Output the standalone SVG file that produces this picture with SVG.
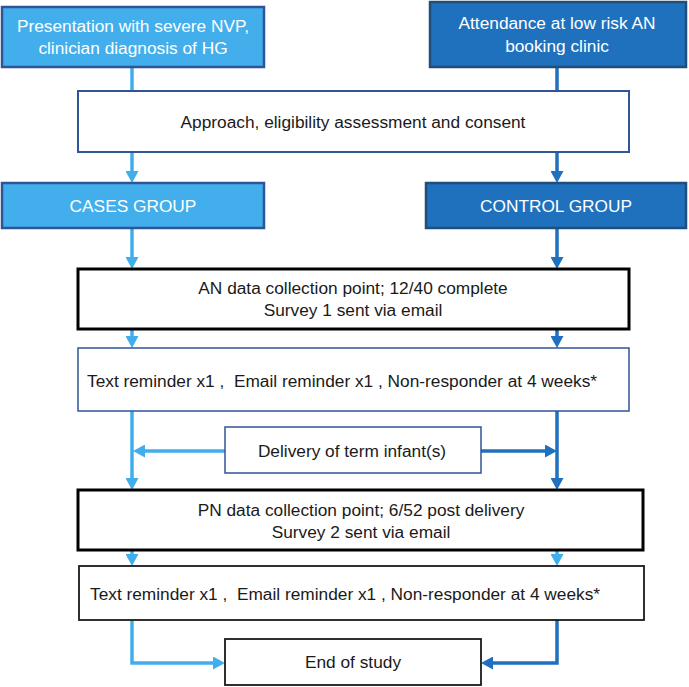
<svg xmlns="http://www.w3.org/2000/svg" width="689" height="687" viewBox="0 0 689 687">
<defs>
<style>
text{font-family:"Liberation Sans",Arial,sans-serif;font-size:17.3px;dominant-baseline:central;text-anchor:middle;fill:#1a1a1a}
.w{fill:#ffffff}
.lt{stroke:#41AEEC;stroke-width:3.5;fill:none}
.dk{stroke:#1F70BF;stroke-width:3.5;fill:none}
.lbox{fill:#42AFEC;stroke:#2F5597;stroke-width:2.5}
.dbox{fill:#1F71BE;stroke:#1F4E79;stroke-width:2.5}
.bbox{fill:#ffffff;stroke:#2F5597;stroke-width:2}
.tbox{fill:#ffffff;stroke:#2F5597;stroke-width:1.5}
.kbox{fill:#ffffff;stroke:#000000;stroke-width:3}
.k2box{fill:#ffffff;stroke:#1a1a1a;stroke-width:1.8}
</style>
<marker id="al" markerUnits="userSpaceOnUse" markerWidth="13" markerHeight="13" refX="4" refY="6.5" orient="auto"><path d="M0,0 L12,6.5 L0,13 z" fill="#41AEEC"/></marker>
<marker id="ad" markerUnits="userSpaceOnUse" markerWidth="13" markerHeight="13" refX="4" refY="6.5" orient="auto"><path d="M0,0 L12,6.5 L0,13 z" fill="#1F70BF"/></marker>
</defs>
<g id="connectors">
<line class="lt" x1="132" y1="67" x2="132" y2="91"/>
<line class="dk" x1="557" y1="67" x2="557" y2="91"/>
<line class="lt" x1="132" y1="152" x2="132" y2="175" marker-end="url(#al)"/>
<line class="dk" x1="557" y1="152" x2="557" y2="175" marker-end="url(#ad)"/>
<line class="lt" x1="132" y1="228" x2="132" y2="261" marker-end="url(#al)"/>
<line class="dk" x1="557" y1="228" x2="557" y2="261" marker-end="url(#ad)"/>
<line class="lt" x1="132" y1="330" x2="132" y2="340" marker-end="url(#al)"/>
<line class="dk" x1="557" y1="330" x2="557" y2="340" marker-end="url(#ad)"/>
<line class="lt" x1="132" y1="411" x2="132" y2="482" marker-end="url(#al)"/>
<line class="dk" x1="557" y1="411" x2="557" y2="482" marker-end="url(#ad)"/>
<line class="lt" x1="225" y1="451" x2="141" y2="451" marker-end="url(#al)"/>
<line class="dk" x1="481" y1="451" x2="549" y2="451" marker-end="url(#ad)"/>
<line class="lt" x1="132" y1="551" x2="132" y2="558" marker-end="url(#al)"/>
<line class="lt" x1="557" y1="551" x2="557" y2="558" marker-end="url(#al)"/>
<polyline class="lt" points="132,620 132,663 217,663" marker-end="url(#al)"/>
<polyline class="dk" points="557,620 557,663 489,663" marker-end="url(#ad)"/>
</g>
<g id="n1"><rect class="lbox" x="2" y="7" width="262" height="60"/><text class="w" x="133" y="26">Presentation with severe NVP,</text><text class="w" x="133" y="48">clinician diagnosis of HG</text></g>
<g id="n2"><rect class="dbox" x="430" y="2" width="256" height="65"/><text class="w" x="557" y="23">Attendance at low risk AN</text><text class="w" x="557" y="46">booking clinic</text></g>
<g id="n3"><rect class="bbox" x="78" y="91" width="551" height="61"/><text x="353" y="122">Approach, eligibility assessment and consent</text></g>
<g id="n4"><rect class="lbox" x="2" y="183" width="262" height="45"/><text class="w" x="133" y="206">CASES GROUP</text></g>
<g id="n5"><rect class="dbox" x="426" y="183" width="260" height="45"/><text class="w" x="556" y="206">CONTROL GROUP</text></g>
<g id="n6"><rect class="kbox" x="78" y="269" width="551" height="60"/><text x="353" y="288">AN data collection point; 12/40 complete</text><text x="353" y="310">Survey 1 sent via email</text></g>
<g id="n7"><rect class="tbox" x="78" y="348" width="551" height="63"/><text x="87" y="381" style="text-anchor:start" xml:space="preserve">Text reminder x1 ,  Email reminder x1 , Non-responder at 4 weeks*</text></g>
<g id="n8"><rect class="tbox" x="225" y="427" width="256" height="46"/><text x="352" y="451">Delivery of term infant(s)</text></g>
<g id="n9"><rect class="kbox" x="78" y="490" width="565" height="60"/><text x="361" y="510">PN data collection point; 6/52 post delivery</text><text x="361" y="532">Survey 2 sent via email</text></g>
<g id="n10"><rect class="k2box" x="79" y="566" width="565" height="54"/><text x="90" y="594" style="text-anchor:start" xml:space="preserve">Text reminder x1 ,  Email reminder x1 , Non-responder at 4 weeks*</text></g>
<g id="n11"><rect class="k2box" x="225" y="639" width="256" height="46"/><text x="353" y="662">End of study</text></g>
</svg>
